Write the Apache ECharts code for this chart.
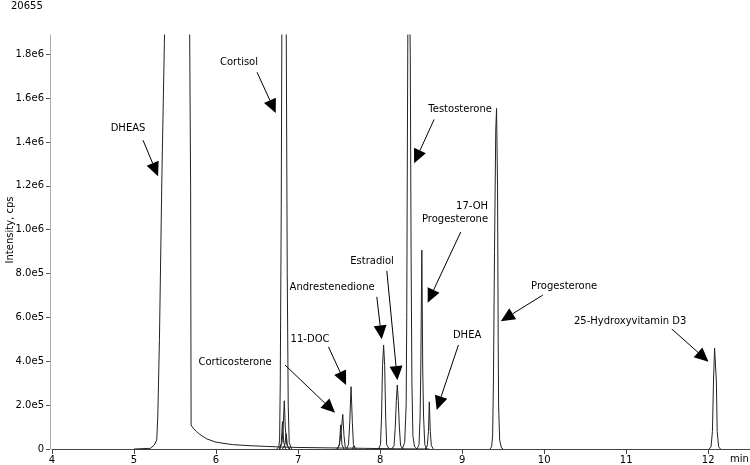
<!DOCTYPE html>
<html>
<head>
<meta charset="utf-8">
<script src="https://cdn.jsdelivr.net/npm/echarts@6/dist/echarts.min.js"></script>
<style>
html, body { margin: 0; padding: 0; background: #fff; }
#chart { width: 750px; height: 465px; }
</style>
</head>
<body>
<div id="chart"></div>
<script>
// [retention time (min), intensity (cps)], one list per peak
const dheas = [[5.0,0],[5.2,3e3],[5.216,6e3],[5.247,1.8e4],[5.277,4.1e4],[5.29,1.5e5],[5.31,5e5],[5.34,1.25e6],[5.37,1.85e6],[5.39,2.4e6],[5.67,2.4e6],[5.69,1.2e6],[5.696,1.1e5],[5.72,9.5e4],[5.765,7.9e4],[5.8,6.7e4],[5.887,4.6e4],[6.0,3.1e4],[6.2,2.0e4],[6.415,1.5e4],[6.6,1.2e4],[6.8,9e3],[7.0,7e3],[7.4,5e3],[7.8,3e3],[8.2,1e3],[8.6,0]];
const cortisol = [[6.74,0],[6.765,1e4],[6.775,4e4],[6.783,3e5],[6.795,1.1e6],[6.805,2.2e6],[6.815,3e6],[6.845,3e6],[6.855,2.0e6],[6.868,8e5],[6.88,2e5],[6.892,3e4],[6.92,0]];
const minor68a = [[6.78,0],[6.805,3e4],[6.82,1.1e5],[6.832,2.2e5],[6.844,1.0e5],[6.86,2.5e4],[6.89,0]];
const minor68b = [[6.77,0],[6.795,2.5e4],[6.81,1.25e5],[6.825,3e4],[6.85,0]];
const minor68c = [[6.81,0],[6.84,2e4],[6.855,7e4],[6.87,1.5e4],[6.9,0]];
const corticosterone = [[7.47,0],[7.50,1.5e4],[7.515,5e4],[7.53,1.0e5],[7.545,1.58e5],[7.56,6e4],[7.575,1e4],[7.6,0]];
const minor752 = [[7.48,0],[7.505,2e4],[7.52,1.1e5],[7.535,2e4],[7.56,0]];
const doc11 = [[7.59,0],[7.615,2e4],[7.63,1.2e5],[7.646,2.84e5],[7.662,1.2e5],[7.675,2e4],[7.70,0]];
const minor768 = [[7.66,0],[7.68,1.5e4],[7.70,0]];
const andro = [[7.98,0],[8.005,2e4],[8.018,1.5e5],[8.03,3.8e5],[8.043,4.74e5],[8.056,3.8e5],[8.068,1.5e5],[8.08,2e4],[8.11,0]];
const estradiol = [[8.14,0],[8.17,1.5e4],[8.185,1e5],[8.198,2.2e5],[8.21,2.92e5],[8.222,2.2e5],[8.235,1e5],[8.25,1.5e4],[8.28,0]];
const testo = [[8.27,0],[8.30,3e4],[8.318,2e5],[8.325,6e5],[8.333,1.4e6],[8.345,2.5e6],[8.36,2.5e6],[8.368,1.8e6],[8.378,9e5],[8.388,3e5],[8.40,6e4],[8.42,1e4],[8.45,0]];
const ohprog = [[8.45,0],[8.475,2e4],[8.488,1.5e5],[8.496,3.6e5],[8.509,9.07e5],[8.52,3.6e5],[8.53,1.5e5],[8.545,2e4],[8.57,0]];
const dhea = [[8.55,0],[8.575,1.5e4],[8.59,8e4],[8.6,2.15e5],[8.612,8e4],[8.625,1.5e4],[8.65,0]];
const prog = [[9.34,0],[9.36,1e4],[9.372,6e4],[9.382,3.1e5],[9.395,9e5],[9.41,1.45e6],[9.42,1.553e6],[9.432,1.2e6],[9.44,5e5],[9.445,2e5],[9.458,4e4],[9.48,5e3],[9.50,0]];
const vitd = [[12.01,0],[12.035,1e4],[12.052,8e4],[12.065,3.1e5],[12.078,4.6e5],[12.1,3.1e5],[12.11,8e4],[12.128,1e4],[12.15,0]];

const traces = [dheas, cortisol, minor68a, minor68b, minor68c, corticosterone, minor752, doc11, minor768, andro, estradiol, testo, ohprog, dhea, prog, vitd];

// peak labels: text anchor, arrow tail, arrow tip (min, cps)
const labelNames = ['DHEAS', 'Cortisol', 'Testosterone', '17-OH\nProgesterone', 'Progesterone', '25-Hydroxyvitamin D3', 'Corticosterone', '11-DOC', 'Andrestenedione', 'Estradiol', 'DHEA'];
const labelAt = [[4.927,1.462e6],[6.28,1.763e6],[8.976,1.549e6],[9.317,1.077e6],[10.244,7.43e5],[11.049,5.83e5],[6.232,3.96e5],[7.146,5.01e5],[7.415,7.38e5],[7.902,8.57e5],[9.061,5.19e5]];
const arrowFrom = [[5.11,1.408e6],[6.5,1.718e6],[8.659,1.503e6],[8.984,9.90e5],[9.984,7.02e5],[11.557,5.47e5],[6.841,3.83e5],[7.37,4.66e5],[7.96,6.94e5],[8.082,8.12e5],[8.955,4.74e5]];
const arrowTo = [[5.293,1.244e6],[6.728,1.532e6],[8.415,1.303e6],[8.58,6.67e5],[9.472,5.83e5],[12.004,3.98e5],[7.451,1.65e5],[7.585,2.92e5],[8.02,5.0e5],[8.211,3.14e5],[8.69,1.78e5]];

// axis ticks
const xTickValues = [4, 5, 6, 7, 8, 9, 10, 11, 12];
const yTickValues = [0, 2e5, 4e5, 6e5, 8e5, 1e6, 1.2e6, 1.4e6, 1.6e6, 1.8e6];
const xRange = [4, 12.51];
const yRange = [0, 1.888e6];

const FONT = '"DejaVu Sans", Verdana, sans-serif';

const chart = echarts.init(document.getElementById('chart'));

const lineSeries = traces.map(d => ({
  type: 'line',
  data: d,
  showSymbol: false,
  symbol: 'none',
  clip: true,
  silent: true,
  lineStyle: { color: '#222', width: 1 },
  z: 2
}));

const annotData = labelNames.map((n, i) => [labelAt[i][0], labelAt[i][1], arrowFrom[i][0], arrowFrom[i][1], arrowTo[i][0], arrowTo[i][1]]);

const annotSeries = {
  type: 'custom',
  silent: true,
  data: annotData,
  encode: { x: [0, 2, 4], y: [1, 3, 5] },
  z: 5,
  renderItem: function (params, api) {
    const i = params.dataIndex;
    const txt = api.coord([api.value(0), api.value(1)]);
    const tail = api.coord([api.value(2), api.value(3)]);
    const tip = api.coord([api.value(4), api.value(5)]);
    const dx = tip[0] - tail[0], dy = tip[1] - tail[1];
    const len = Math.sqrt(dx * dx + dy * dy);
    const ux = dx / len, uy = dy / len;
    const L = 14, W = 6.5;
    const base = [tip[0] - ux * L, tip[1] - uy * L];
    const p1 = [base[0] - uy * W, base[1] + ux * W];
    const p2 = [base[0] + uy * W, base[1] - ux * W];
    const multi = labelNames[i].indexOf('\n') >= 0;
    return {
      type: 'group',
      children: [
        { type: 'line', shape: { x1: tail[0], y1: tail[1], x2: base[0], y2: base[1] }, style: { stroke: '#000', lineWidth: 1 } },
        { type: 'polygon', shape: { points: [tip, p1, p2] }, style: { fill: '#000' } },
        { type: 'text', x: txt[0], y: txt[1], style: { text: labelNames[i], align: multi ? 'right' : 'center', verticalAlign: 'middle', font: '10px ' + FONT, fill: '#000', lineHeight: 13 } }
      ]
    };
  }
};

const option = {
  animation: false,
  backgroundColor: '#fff',
  grid: { left: 52, right: 0, top: 35, bottom: 16, containLabel: false, outerBoundsMode: 'none' },
  xAxis: {
    type: 'value',
    min: xRange[0],
    max: xRange[1],
    interval: 1,
    axisLine: { show: true, lineStyle: { color: '#444', width: 1 } },
    axisTick: { show: true, length: 5, lineStyle: { color: '#444' }, customValues: xTickValues },
    axisLabel: { color: '#000', fontSize: 10, fontFamily: FONT, margin: 6, customValues: xTickValues },
    splitLine: { show: false }
  },
  yAxis: {
    type: 'value',
    min: yRange[0],
    max: yRange[1],
    interval: 2e5,
    offset: 2,
    axisLine: { show: true, lineStyle: { color: '#aaa', width: 1 } },
    axisTick: { show: true, length: 4, lineStyle: { color: '#555' }, customValues: yTickValues },
    axisLabel: {
      color: '#000', fontSize: 10, fontFamily: FONT, margin: 6,
      customValues: yTickValues,
      formatter: v => v === 0 ? '0' : v.toExponential(1).replace('+', '')
    },
    splitLine: { show: false }
  },
  graphic: [
    { type: 'text', left: 11, top: 1, style: { text: '20655', font: '10px ' + FONT, fill: '#000' } },
    { type: 'text', left: 730, top: 454, style: { text: 'min', font: '10px ' + FONT, fill: '#000' } },
    { type: 'text', x: 10, y: 230, rotation: Math.PI / 2, style: { text: 'Intensity, cps', font: '10px ' + FONT, fill: '#000', align: 'center', verticalAlign: 'middle' } }
  ],
  series: lineSeries.concat([annotSeries])
};

chart.setOption(option);
</script>
</body>
</html>
